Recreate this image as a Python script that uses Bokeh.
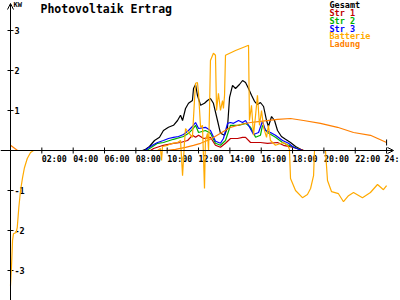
import math
from bokeh.plotting import figure
from bokeh.models import Range1d, Arrow, OpenHead, Label
from bokeh.embed import file_html
from bokeh.resources import INLINE
from bokeh.core.properties import value

# ---------------- data (hours, kW) ----------------
gesamt_t = [0, 8.42, 8.62, 8.87, 9.19, 9.51, 9.76, 10.08, 10.40, 10.66, 10.85, 10.98, 11.17, 11.36, 11.61,
            11.68, 11.81, 11.93, 12.13, 12.38, 12.57, 12.76, 12.95, 13.21, 13.40, 13.66, 13.85, 13.98, 14.17,
            14.36, 14.61, 14.81, 15.00, 15.19, 15.38, 15.57, 15.76, 15.95, 16.15, 16.34, 16.46, 16.66, 16.85,
            17.04, 17.29, 17.55, 17.87, 18.19, 18.51, 18.70, 24]
gesamt_v = [0, 0, 0.03, 0.1, 0.25, 0.33, 0.5, 0.58, 0.63, 0.75, 0.88, 0.75, 1.05, 1.18, 1.25,
            1.55, 1.65, 1.38, 1.13, 1.18, 1.25, 1.3, 1.18, 0.75, 0.43, 0.38, 0.58, 1.33, 1.63,
            1.55, 1.65, 1.75, 1.7, 1.55, 1.38, 1.23, 1.15, 1.2, 1.1, 0.75, 0.6, 0.85, 0.75,
            0.5, 0.35, 0.28, 0.2, 0.1, 0.03, 0, 0]

str1_t = [0, 8.93, 9.13, 9.76, 10.40, 10.85, 11.30, 11.61, 11.81, 12.00, 12.32, 12.76, 13.08, 13.40,
          13.72, 14.04, 14.49, 14.81, 15.00, 15.32, 15.95, 16.40, 17.04, 17.42, 18.06, 18.51, 18.70, 24]
str1_v = [0, 0, 0.05, 0.13, 0.18, 0.2, 0.25, 0.38, 0.33, 0.38, 0.3, 0.33, 0.13, 0.08,
          0.18, 0.3, 0.3, 0.33, 0.33, 0.2, 0.2, 0.18, 0.2, 0.13, 0.08, 0.03, 0, 0]

str2_t = [0, 8.68, 8.81, 9.38, 9.76, 10.40, 11.04, 11.36, 11.61, 11.81, 12.00, 12.44, 12.76, 13.08,
          13.40, 13.72, 14.04, 14.55, 15.00, 15.32, 15.64, 15.95, 16.08, 16.40, 16.91, 17.36, 17.74,
          18.32, 18.57, 24]
str2_v = [0, 0, 0.03, 0.18, 0.2, 0.28, 0.35, 0.43, 0.53, 0.63, 0.45, 0.5, 0.43, 0.18,
          0.13, 0.25, 0.63, 0.63, 0.68, 0.58, 0.33, 0.38, 0.63, 0.45, 0.33, 0.2, 0.13,
          0.05, 0, 0]

str3_t = [0, 8.62, 8.74, 9.06, 9.38, 9.76, 10.08, 10.40, 10.72, 11.04, 11.36, 11.61, 11.81, 12.00,
          12.44, 12.76, 13.08, 13.40, 13.59, 13.85, 14.04, 14.23, 14.55, 14.81, 15.00, 15.19, 15.51,
          15.83, 16.08, 16.27, 16.59, 16.91, 17.36, 17.74, 18.06, 18.38, 18.63, 24.1]
str3_v = [0, 0, 0.05, 0.13, 0.2, 0.25, 0.3, 0.33, 0.35, 0.4, 0.5, 0.6, 0.7, 0.55,
          0.58, 0.5, 0.23, 0.18, 0.3, 0.68, 0.7, 0.68, 0.75, 0.7, 0.75, 0.63, 0.4,
          0.45, 0.73, 0.5, 0.45, 0.38, 0.25, 0.18, 0.08, 0.03, 0, 0]

batterie_t = [0, 0.06, 0.13, 0.19, 0.36, 0.43, 0.53, 0.64, 0.77, 0.89, 1.07, 1.28, 1.47,
              9.38, 9.57, 9.64, 9.70, 10.02, 10.34, 10.66, 10.85, 10.98, 11.10, 11.17, 11.36, 11.61,
              11.74, 11.81, 11.93, 12.00, 12.13, 12.25, 12.38, 12.44, 12.57, 12.64, 12.70, 12.76,
              12.95, 13.08, 13.15, 13.27, 13.40, 13.53, 13.59, 13.66, 13.72, 14.36, 15.00, 15.19, 15.25,
              15.38, 15.51, 15.64, 15.76, 15.89, 16.02, 16.15, 16.34, 16.46, 16.59, 16.91, 17.42,
              17.68, 17.80, 17.87, 18.19, 18.63, 18.95, 19.15, 19.34, 19.40, 20.10, 20.23, 20.49,
              20.93, 21.25, 21.57, 21.89, 22.46, 22.97, 23.42, 23.80, 24.0]
batterie_v = [-3.38, -2.93, -2.25, -2.08, -2.05, -1.93, -1.43, -1.0, -0.68, -0.43, -0.2, -0.05, 0,
              0, 0.05, -0.25, 0.1, 0.13, 0.18, 0.2, 0.25, -0.63, 0.18, 0.55, 0.45, 0.33,
              1.25, 1.68, 1.7, 1.43, 0.58, 0.63, -0.95, 0.25, 0.43, 0, 1.0, 2.25,
              2.43, 2.38, 1.0, 1.43, 1.0, 1.25, 1.05, 1.38, 2.38, 2.5, 2.6, 2.63, 0.75,
              1.13, 0.38, 0.88, 1.38, 0.63, 1.0, 0.58, 0.33, 0.63, 0.25, 0.13, 0.2,
              0.13, 0.03, -0.7, -1.0, -1.18, -1.1, -0.95, -0.63, 0, 0, -0.75, -1.03,
              -1.08, -1.28, -1.13, -1.05, -1.18, -1.05, -0.85, -0.98, -0.88]

ladung_t = [0, 0.45, 9.89, 10.53, 11.17, 11.68, 12.13, 12.76, 13.40, 14.04, 14.68, 15.32, 15.95,
            17.04, 17.87, 18.70, 19.78, 20.87, 21.89, 22.97, 24.0]
ladung_v = [0.13, 0, 0, 0.03, 0.08, 0.13, 0.18, 0.28, 0.43, 0.58, 0.65, 0.7, 0.73,
            0.78, 0.8, 0.75, 0.68, 0.58, 0.45, 0.38, 0.2]

x_ticks = [2, 4, 6, 8, 10, 12, 14, 16, 18, 20, 22, 24]
x_tick_labels = ["02:00", "04:00", "06:00", "08:00", "10:00", "12:00", "14:00", "16:00",
                 "18:00", "20:00", "22:00", "24:"]
y_ticks = [3, 2, 1, -1, -2, -3]
y_tick_labels = ["3", "2", "1", "-1", "-2", "-3"]

series_names = ["Gesamt", "Str 1", "Str 2", "Str 3", "Batterie", "Ladung"]
series_colors = ["#000000", "#c00000", "#00b000", "#0000ff", "#ffaa00", "#ff7f00"]

title_text = "Photovoltaik Ertrag"
unit_text = "KW"

# ---------------- figure ----------------
PXH = 15.67   # pixels per hour
PXK = 40.0    # pixels per kW
p = figure(width=400, height=300,
           x_range=Range1d(-10 / PXH, 390 / PXH),
           y_range=Range1d(-150 / PXK, 150 / PXK),
           x_axis_type=None, y_axis_type=None,
           toolbar_location=None, output_backend="svg",
           min_border=0, outline_line_color=None,
           background_fill_color="white", border_fill_color="white")

FONT_NAME = "DejaVu Sans Mono"
FONT = value(FONT_NAME)

# axes with arrows
p.add_layout(Arrow(end=OpenHead(size=6, line_color="black", line_width=1),
                   x_start=-10 / PXH, y_start=0, x_end=383 / PXH, y_end=0,
                   line_color="black", line_width=1))
p.add_layout(Arrow(end=OpenHead(size=6, line_color="black", line_width=1),
                   x_start=0, y_start=-150 / PXK, x_end=0, y_end=147 / PXK,
                   line_color="black", line_width=1))

# tick marks
p.scatter(x=x_ticks, y=[0] * len(x_ticks), marker="dash", angle=math.pi / 2, size=6,
          line_color="black", line_width=1)
p.scatter(x=[0] * len(y_ticks), y=y_ticks, marker="dash", size=6,
          line_color="black", line_width=1)

# tick labels (the last one nudged left so it stays inside the page)
p.text(x=x_ticks[:-1], y=[0] * (len(x_ticks) - 1), text=x_tick_labels[:-1], x_offset=0, y_offset=3,
       text_align="left", text_baseline="top", text_font=FONT, text_font_style="bold",
       text_font_size="8.3px", text_color="black")
p.text(x=x_ticks[-1:], y=[0], text=x_tick_labels[-1:], x_offset=-2, y_offset=3,
       text_align="left", text_baseline="top", text_font=FONT, text_font_style="bold",
       text_font_size="8.3px", text_color="black")
p.text(x=[0] * len(y_ticks), y=y_ticks, text=y_tick_labels, x_offset=4, y_offset=0,
       text_align="left", text_baseline="middle", text_font=FONT, text_font_style="bold",
       text_font_size="8.5px", text_color="black")

# series
data = [(gesamt_t, gesamt_v), (str1_t, str1_v), (str2_t, str2_v), (str3_t, str3_v),
        (ladung_t, ladung_v), (batterie_t, batterie_v)]
cols = [series_colors[0], series_colors[1], series_colors[2], series_colors[3],
        series_colors[5], series_colors[4]]
for (t, v), c in zip(data, cols):
    p.line(t, v, line_color=c, line_width=1.2)

# small black end marker at the last Ladung point
p.scatter(x=[ladung_t[-1]], y=[ladung_v[-1]], marker="dash", angle=math.pi / 2, size=6,
          line_color="black", line_width=1)

# title and unit
p.add_layout(Label(x=40, y=300 - 8, x_units="screen", y_units="screen", text=title_text,
                   text_font=FONT_NAME, text_font_style="bold", text_font_size="11.5px",
                   text_baseline="middle", text_align="left", text_color="black"))
p.add_layout(Label(x=13, y=300 - 4, x_units="screen", y_units="screen", text=unit_text,
                   text_font=FONT_NAME, text_font_size="7px", text_font_style="bold",
                   text_baseline="middle", text_align="left", text_color="black"))

# legend
for i, (name, col) in enumerate(zip(series_names, series_colors)):
    p.add_layout(Label(x=329, y=300 - (4.7 + 7.8 * i), x_units="screen", y_units="screen",
                       text=name, text_font=FONT_NAME, text_font_style="bold", text_font_size="8.5px",
                       text_baseline="middle", text_align="left", text_color=col))

open("out.html", "w").write(file_html(p, INLINE))
